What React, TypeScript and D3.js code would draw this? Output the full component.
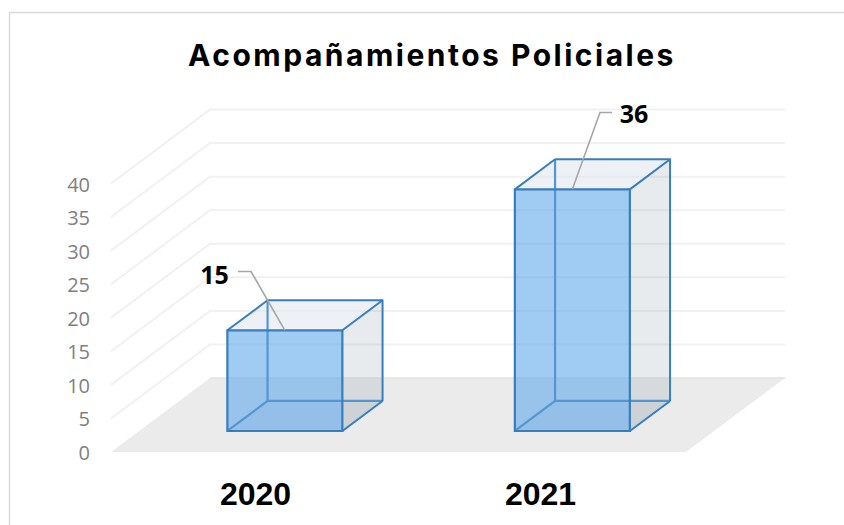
import React from "react";
import * as d3 from "d3";

const categories = ["2020", "2021"];
const values = [15, 36];
const ticks = [0, 5, 10, 15, 20, 25, 30, 35, 40];
const title = "Acompañamientos Policiales";

const W = 844, H = 525;
const FX = 111, FY = 452, DX = 99, DY = 74;
const floorW = 575;
const yScale = d3.scaleLinear().domain([0, 40]).range([0, 268.5]);
const xBand = d3.scaleBand<string>().domain(categories).range([2, floorW + 2]).paddingInner(0.6).paddingOuter(0.3);
const D0 = 0.284, D1 = 0.69;

// oblique projection: x along floor, v height, d depth 0..1
const P = (x: number, v: number, d: number): [number, number] => [FX + x + d * DX, FY - d * DY - yScale(v)];
const open = (pts: [number, number][]) => d3.line()(pts) as string;
const poly = (pts: [number, number][]) => open(pts) + "Z";

const BLUE = "#3a7dbd";
const INNER = "#5596d2";

function Bar({ cat, value }: { cat: string; value: number }) {
  const x0 = xBand(cat) as number;
  const x1 = x0 + xBand.bandwidth();
  const a = P(x0, 0, D0), b = P(x1, 0, D0), c = P(x1, value, D0), e = P(x0, value, D0);
  const a2 = P(x0, 0, D1), b2 = P(x1, 0, D1), c2 = P(x1, value, D1), e2 = P(x0, value, D1);
  return (
    <g>
      <path d={poly([e, c, c2, e2])} fill="#dfe6ec" fillOpacity={0.55} />
      <path d={poly([b, b2, c2, c])} fill="#5f7890" fillOpacity={0.15} />
      <path d={poly([a, b, b2, a2])} fill="#5f7890" fillOpacity={0.07} />
      <path d={poly([a, b, c, e])} fill="#5ba6ea" fillOpacity={0.58} />
      <path d={open([a2, e2])} stroke={INNER} strokeWidth={2.2} fill="none" />
      <path d={open([a2, b2])} stroke={INNER} strokeWidth={2.2} fill="none" />
      <path d={open([a, a2])} stroke={INNER} strokeWidth={2.2} fill="none" />
      <path d={open([e, e2])} stroke={BLUE} strokeWidth={2} fill="none" />
      <path d={open([e2, c2, b2])} stroke={BLUE} strokeWidth={2} fill="none" strokeLinejoin="round" />
      <path d={open([c, c2])} stroke={BLUE} strokeWidth={2} fill="none" />
      <path d={open([b, b2])} stroke={BLUE} strokeWidth={2} fill="none" />
      <path d={poly([a, b, c, e])} stroke={BLUE} strokeWidth={2.2} fill="none" />
    </g>
  );
}

export default function App() {
  const bl = P(0, 0, 0), br = P(floorW, 0, 0), tr = P(floorW, 0, 1), tl = P(0, 0, 1);
  const x20 = xBand("2020") as number, x21 = xBand("2021") as number;
  const lead20 = P(x20 + xBand.bandwidth() * 0.5, values[0], D0);
  const lead21 = P(x21 + xBand.bandwidth() * 0.5, values[1], D0);
  return (
    <svg width={W} height={H} viewBox={`0 0 ${W} ${H}`} style={{ position: "absolute", left: 0, top: 0, background: "#fff" }}>
      <path d={`M9.5 525V12.5H844`} fill="none" stroke="#d9d9d9" strokeWidth={1.4} />
      <text x={432} y={66} textAnchor="middle" fontFamily="Inter" fontWeight={700} fontSize={30} letterSpacing={2.5} fill="#000">{title}</text>
      {ticks.filter(t => t > 0).map(t => {
        const f = P(0, t, 0), b = P(0, t, 1), r = P(floorW, t, 1);
        return <path key={t} d={`M${f[0]} ${f[1]}L${b[0]} ${b[1]}L${r[0]} ${r[1]}`} fill="none" stroke="#f1f1f1" strokeWidth={2} />;
      })}
      <path d={poly([bl, br, tr, tl])} fill="#ebebeb" />
      <path d={open([tl, tr])} stroke="#e3e3e3" strokeWidth={1.5} fill="none" />
      {ticks.map(t => {
        const f = P(0, t, 0);
        return <text key={t} x={f[0] - 21} y={f[1] + 8} textAnchor="end" fontFamily="Open Sans" fontSize={20} fill="#808080">{t}</text>;
      })}
      {categories.map((c, i) => <Bar key={c} cat={c} value={values[i]} />)}
      <path d={`M${lead20[0]} ${lead20[1]}L${251} ${271.5}H${238}`} fill="none" stroke="#a6a6a6" strokeWidth={1.6} />
      <path d={`M${lead21[0]} ${lead21[1]}L${600} ${112.5}H${612}`} fill="none" stroke="#a6a6a6" strokeWidth={1.6} />
      <text x={214.5} y={284} textAnchor="middle" fontFamily="Open Sans" fontWeight={700} fontSize={25} fill="#000">{values[0]}</text>
      <text x={634} y={123} textAnchor="middle" fontFamily="Open Sans" fontWeight={700} fontSize={25} fill="#000">{values[1]}</text>
      {categories.map((c, i) => (
        <text key={c} x={[255.5, 540.5][i]} y={505} textAnchor="middle" fontFamily="Liberation Sans" fontWeight={700} fontSize={32} fill="#000">{c}</text>
      ))}
    </svg>
  );
}
